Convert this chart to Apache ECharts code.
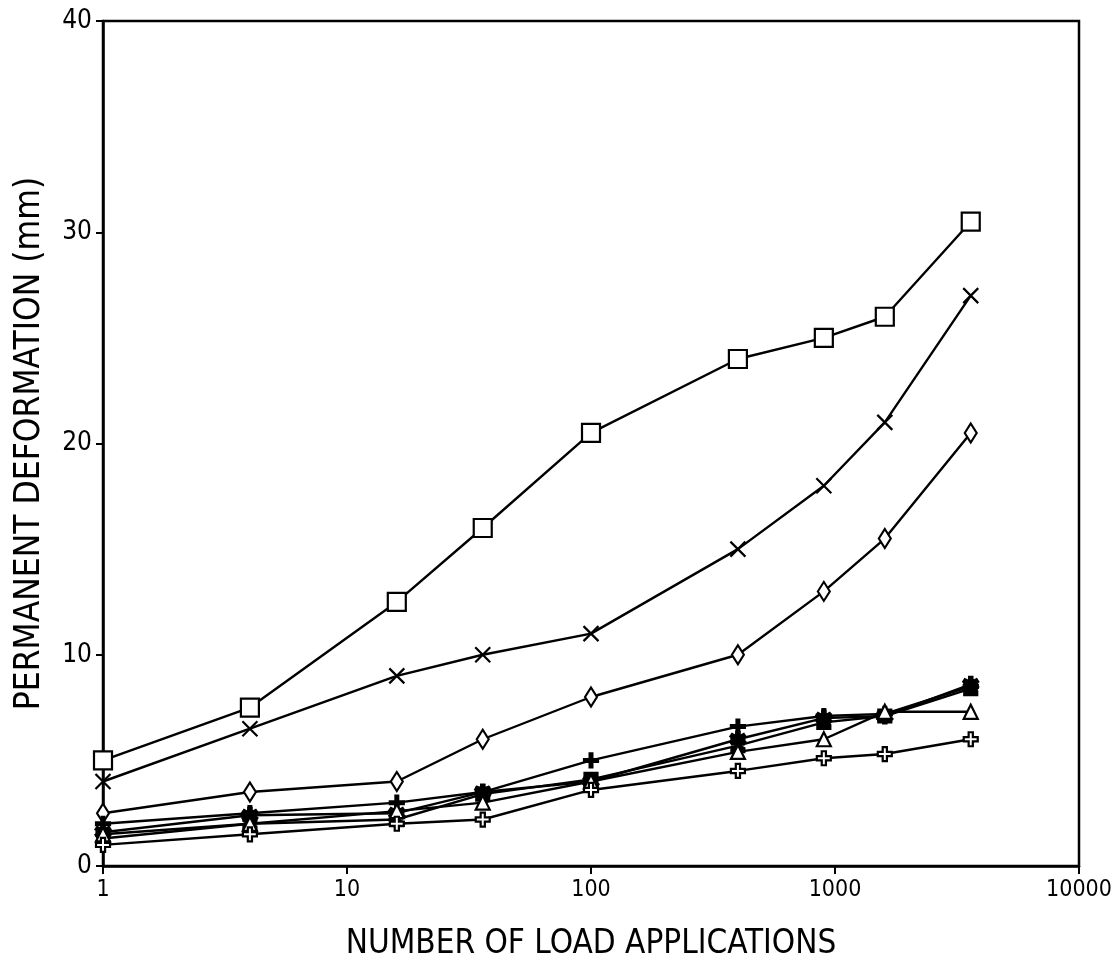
<!DOCTYPE html>
<html>
<head>
<meta charset="utf-8">
<script src="https://cdn.jsdelivr.net/npm/echarts@6/dist/echarts.min.js"></script>
<style>
  html, body { margin: 0; padding: 0; background: #fff; }
</style>
</head>
<body>
<div id="main" style="width: 1113px;height: 964px;"></div>
<script>
// load applications (x values)
var loads = [1, 4, 16, 36, 100, 400, 900, 1600, 3600];
var xTicks = ['1', '10', '100', '1000', '10000'];
var yTicks = [0, 10, 20, 30, 40];

// permanent deformation (mm) per test
var sqData = [5.0, 7.5, 12.5, 16.0, 20.5, 24.0, 25.0, 26.0, 30.5];
var crossData = [4.0, 6.5, 9.0, 10.0, 11.0, 15.0, 18.0, 21.0, 27.0];
var diamondData = [2.5, 3.5, 4.0, 6.0, 8.0, 10.0, 13.0, 15.5, 20.5];
var plusData = [2.0, 2.5, 3.0, 3.5, 5.0, 6.6, 7.1, 7.2, 8.5];
var starData = [1.6, 2.4, 2.5, 3.5, 4.0, 6.0, 7.0, 7.1, 8.6];
var hourData = [1.3, 2.0, 2.2, 3.4, 4.1, 5.7, 6.8, 7.1, 8.4];
var triData = [1.5, 2.0, 2.6, 3.0, 4.0, 5.4, 6.0, 7.3, 7.3];
var openPlusData = [1.0, 1.5, 2.0, 2.2, 3.6, 4.5, 5.1, 5.3, 6.0];

var FONT = '"DejaVu Sans Condensed", "Liberation Sans Narrow", sans-serif';

// marker shapes
var xPath = 'path://M0,0L10,10M10,0L0,10';
var diamondPath = 'path://M5,0L10,9L5,18L0,9Z';
var plusPath = 'path://M4,0H6V4H10V6H6V10H4V6H0V4H4Z';
var starPath = 'path://M4,0H6V3L8.5,1.5L9.5,3.2L7,5L9.5,6.8L8.5,8.5L6,7V10H4V7L1.5,8.5L0.5,6.8L3,5L0.5,3.2L1.5,1.5L4,3Z';
var hourPath = 'path://M0,0H10V3L6,5L10,7V10H0V7L4,5L0,3Z';
var openPlusPath = 'path://M3.5,0H6.5V3.5H10V6.5H6.5V10H3.5V6.5H0V3.5H3.5Z';

function pts(arr) {
    return loads.map(function (n, i) { return [n, arr[i]]; });
}

function mkSeries(name, arr, symbol, size, filled) {
    return {
        name: name,
        type: 'line',
        data: pts(arr),
        symbol: symbol,
        symbolSize: size,
        lineStyle: { color: '#000', width: 2.4 },
        itemStyle: {
            color: filled ? '#000' : '#fff',
            borderColor: '#000',
            borderWidth: 2.2
        },
        emphasis: { disabled: true },
        animation: false
    };
}

var chart = echarts.init(document.getElementById('main'));
chart.setOption({
    backgroundColor: '#fff',
    grid: {
        left: 103, right: 34, top: 21, bottom: 98,
        outerBoundsMode: 'none',
        containLabel: false,
        show: true, borderColor: '#000', borderWidth: 2.5
    },
    xAxis: {
        type: 'log',
        logBase: 10,
        min: 1,
        max: 10000,
        name: 'NUMBER OF LOAD APPLICATIONS',
        nameLocation: 'middle',
        nameGap: 62,
        nameTextStyle: { fontFamily: FONT, fontSize: 33, color: '#000' },
        axisLine: { lineStyle: { color: '#000', width: 2.5 } },
        axisTick: { inside: false, length: 8, lineStyle: { color: '#000', width: 2 } },
        minorTick: { show: false },
        splitLine: { show: false },
        axisLabel: {
            fontFamily: FONT, fontSize: 23, color: '#000', margin: 13,
            formatter: function (v) { return String(Math.round(v)); }
        }
    },
    yAxis: {
        type: 'value',
        min: yTicks[0],
        max: yTicks[yTicks.length - 1],
        interval: 10,
        name: 'PERMANENT DEFORMATION (mm)',
        nameLocation: 'middle',
        nameGap: 56,
        nameTextStyle: { fontFamily: FONT, fontSize: 35, color: '#000' },
        axisLine: { lineStyle: { color: '#000', width: 2.5 } },
        axisTick: { inside: false, length: 7, lineStyle: { color: '#000', width: 2 } },
        splitLine: { show: false },
        axisLabel: { fontFamily: FONT, fontSize: 26, color: '#000', margin: 11 }
    },
    series: [
        mkSeries('sq', sqData, 'rect', 18, false),
        mkSeries('x', crossData, xPath, 15, false),
        mkSeries('diamond', diamondData, diamondPath, [12, 19], false),
        mkSeries('plus', plusData, plusPath, 14, true),
        mkSeries('star', starData, starPath, 15, true),
        mkSeries('hour', hourData, hourPath, 13, true),
        mkSeries('tri', triData, 'triangle', 14, false),
        mkSeries('openplus', openPlusData, openPlusPath, 14, false)
    ]
});
</script>
</body>
</html>
